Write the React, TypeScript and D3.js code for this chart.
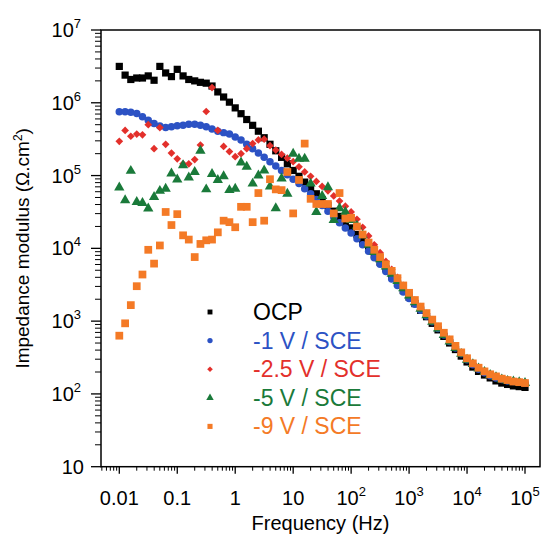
import React, { useEffect } from "react";
import * as d3 from "d3";

const freqs = [
  0.01, 0.0126, 0.0158, 0.02, 0.0251, 0.0316, 0.0398, 0.0501, 0.0631, 0.0794,
  0.1, 0.126, 0.158, 0.2, 0.251, 0.316, 0.398, 0.501, 0.631, 0.794,
  1, 1.26, 1.58, 2, 2.51, 3.16, 3.98, 5.01, 6.31, 7.94,
  10, 12.6, 15.8, 20, 25.1, 31.6, 39.8, 50.1, 63.1, 79.4,
  100, 126, 158, 200, 251, 316, 398, 501, 631, 794,
  1000, 1260, 1580, 2000, 2510, 3160, 3980, 5010, 6310, 7940,
  10000, 12600, 15800, 20000, 25100, 31600, 39800, 50100, 63100, 79400,
  100000,
];

const ocp = [
  3160000, 2400000, 2090000, 2190000, 2190000, 2340000, 2040000, 3160000, 2570000, 2290000,
  2880000, 2340000, 2090000, 2000000, 1910000, 1860000, 1700000, 1410000, 1200000, 1020000,
  851000, 708000, 589000, 490000, 407000, 331000, 269000, 219000, 178000, 145000,
  117500, 97700, 81300, 67600, 56200, 46800, 38900, 32400, 27500, 22900,
  19100, 15500, 12600, 10000, 8130, 6460, 5250, 4170, 3310, 2630,
  2140, 1740, 1410, 1150, 933, 759, 617, 501, 407, 331,
  275, 234, 204, 182, 166, 151, 141, 135, 129, 126,
  123,
];

const minus1V = [
  751000, 751000, 741000, 713000, 641000, 577000, 520000, 478000, 457000, 468000,
  482000, 490000, 508000, 508000, 490000, 468000, 437000, 407000, 389000, 372000,
  339000, 309000, 269000, 234000, 204000, 178000, 155000, 135000, 117500, 102300,
  89100, 77600, 66100, 56200, 46800, 38900, 32400, 26900, 22400, 19100,
  16200, 13500, 11200, 9120, 7410, 6030, 4790, 3800, 3090, 2510,
  2040, 1700, 1410, 1175, 977, 794, 646, 525, 427, 355,
  295, 251, 219, 195, 178, 166, 158, 151, 148, 145,
  141,
];

const minus2_5V = [
  295000, 417000, 347000, 372000, 363000, 501000, 234000, 457000, 269000, 204000,
  170000, 145000, 145000, 166000, 263000, 759000, 1620000, 417000, 251000, 214000,
  182000, 200000, 234000, 275000, 309000, 316000, 257000, 224000, 195000, 174000,
  155000, 132000, 112000, 97700, 83200, 70800, 61700, 52500, 44700, 38000,
  31600, 25100, 19500, 14800, 11200, 8710, 6610, 5130, 3980, 3090,
  2450, 1930, 1560, 1270, 1030, 840, 684, 556, 453, 369,
  307, 262, 229, 204, 187, 175, 164, 157, 151, 147,
  144,
];

const minus5V = [
  68400, 45700, 116000, 43400, 42100, 35200, 50800, 61700, 66100, 107000,
  88300, 139000, 94000, 112000, 219000, 64600, 105000, 87100, 97700, 63100,
  66100, 151000, 132000, 77600, 100000, 117500, 70800, 35500, 91200, 56200,
  200000, 170000, 170000, 77600, 31600, 52500, 69200, 24500, 35500, 31600,
  24500, 20400, 15100, 11200, 8910, 7080, 5620, 4470, 3550, 2820,
  2240, 1820, 1480, 1200, 977, 794, 646, 525, 427, 355,
  295, 257, 224, 200, 182, 170, 158, 151, 148, 145,
  141,
];

const minus9V = [
  631, 933, 1660, 3020, 4370, 9550, 6170, 10960, 31600, 20900,
  29500, 15100, 13200, 7590, 11500, 12900, 13200, 16600, 24000, 22900,
  19500, 37200, 37200, 22900, 57500, 24000, 89100, 64600, 63100, 112000,
  30200, 87100, 275000, 47900, 40700, 40700, 40700, 30200, 57500, 25700,
  26300, 19950, 15500, 12000, 9550, 7590, 6030, 4900, 3890, 3090,
  2450, 1950, 1585, 1290, 1050, 851, 692, 562, 457, 372,
  309, 263, 229, 204, 186, 174, 162, 155, 148, 145,
  141,
];

const seriesNames = ["OCP", "-1 V / SCE", "-2.5 V / SCE", "-5 V / SCE", "-9 V / SCE"];
const seriesColors = ["#000000", "#2c52c4", "#e3302b", "#1a7a3a", "#f47a26"];
const seriesShapes = ["square", "circle", "diamond", "triangle", "square"];
const seriesData = [ocp, minus1V, minus2_5V, minus5V, minus9V];

const xTickValues = [0.01, 0.1, 1, 10, 100, 1000, 10000, 100000];
const xTickBase = ["0.01", "0.1", "1", "10", "10", "10", "10", "10"];
const xTickExp = ["", "", "", "", "2", "3", "4", "5"];
const yTickValues = [10, 100, 1000, 10000, 100000, 1000000, 10000000];
const yTickExp = ["", "2", "3", "4", "5", "6", "7"];

const W = 543;
const H = 536;
const FONT = "'Liberation Sans', Arial, Helvetica, sans-serif";

const x = d3.scaleLog().domain([0.01, 100000]).range([119.3, 525]);
const y = d3.scaleLog().domain([10, 10000000]).range([466.7, 30]);
const left = 101;
const right = 540;
const top = 30;
const bottom = 466.7;

function symbolPath(shape: string, size: number) {
  const t =
    shape === "square"
      ? d3.symbolSquare
      : shape === "circle"
      ? d3.symbolCircle
      : shape === "diamond"
      ? d3.symbolDiamond2
      : d3.symbolTriangle;
  return d3.symbol().type(t).size(size)() as string;
}

const dataSizes = [52, 44, 38, 46, 60];
const legendSizes = [24, 22, 20, 24, 26];

export default function App() {
  useEffect(() => {
    document.body.style.margin = "0";
  }, []);

  const xMinor: number[] = [];
  for (let e = -3; e <= 5; e++) {
    for (let m = 2; m <= 9; m++) {
      const v = m * Math.pow(10, e);
      const px = x(v);
      if (px > left + 0.5 && px < right - 0.5) xMinor.push(v);
    }
  }
  const yMinor: number[] = [];
  for (let e = 1; e <= 6; e++) {
    for (let m = 2; m <= 9; m++) yMinor.push(m * Math.pow(10, e));
  }

  return (
    <svg
      width={W}
      height={H}
      style={{ position: "absolute", left: 0, top: 0, background: "#fff" }}
      fontFamily={FONT}
    >
      <rect x={0} y={0} width={W} height={H} fill="#fff" />
      {seriesData.map((arr, si) => (
        <g key={si} fill={seriesColors[si]}>
          {arr.map((v, i) => (
            <path
              key={i}
              d={symbolPath(seriesShapes[si], dataSizes[si])}
              transform={`translate(${x(freqs[i])},${y(v)})`}
            />
          ))}
        </g>
      ))}
      <rect
        x={left}
        y={top}
        width={right - left}
        height={bottom - top}
        fill="none"
        stroke="#000"
        strokeWidth={1.5}
      />
      {xTickValues.map((v, i) => (
        <g key={"xt" + i}>
          <line x1={x(v)} x2={x(v)} y1={bottom} y2={bottom + 7} stroke="#000" strokeWidth={1.3} />
          <text x={x(v)} y={505} textAnchor="middle" fontSize={20}>
            <tspan>{xTickBase[i]}</tspan>
            {xTickExp[i] && (
              <tspan dy={-9} fontSize={13}>
                {xTickExp[i]}
              </tspan>
            )}
          </text>
        </g>
      ))}
      {xMinor.map((v, i) => (
        <line key={"xm" + i} x1={x(v)} x2={x(v)} y1={bottom} y2={bottom + 4} stroke="#000" strokeWidth={1} />
      ))}
      {yTickValues.map((v, i) => (
        <g key={"yt" + i}>
          <line x1={left - 10} x2={left} y1={y(v)} y2={y(v)} stroke="#000" strokeWidth={1.3} />
          <text x={yTickExp[i] ? 81 : 84} y={y(v) + 7} textAnchor="end" fontSize={20}>
            <tspan>10</tspan>
            {yTickExp[i] && (
              <tspan dy={-9} fontSize={13}>
                {yTickExp[i]}
              </tspan>
            )}
          </text>
        </g>
      ))}
      {yMinor.map((v, i) => (
        <line key={"ym" + i} x1={left - 6} x2={left} y1={y(v)} y2={y(v)} stroke="#000" strokeWidth={1} />
      ))}
      <text x={(left + right) / 2} y={530} textAnchor="middle" fontSize={20}>
        Frequency (Hz)
      </text>
      <text
        transform={`translate(29,${(top + bottom) / 2}) rotate(-90)`}
        textAnchor="middle"
        fontSize={19}
      >
        Impedance modulus (Ω.cm
        <tspan dy={-7} fontSize={12}>
          2
        </tspan>
        <tspan dy={7}>)</tspan>
      </text>
      {seriesNames.map((name, si) => {
        const ly = 312 + si * 28.6;
        return (
          <g key={"lg" + si}>
            <path
              d={symbolPath(seriesShapes[si], legendSizes[si])}
              transform={`translate(210,${ly})`}
              fill={seriesColors[si]}
            />
            <text x={253} y={ly + 8} fontSize={23} fill={seriesColors[si]}>
              {name}
            </text>
          </g>
        );
      })}
    </svg>
  );
}
